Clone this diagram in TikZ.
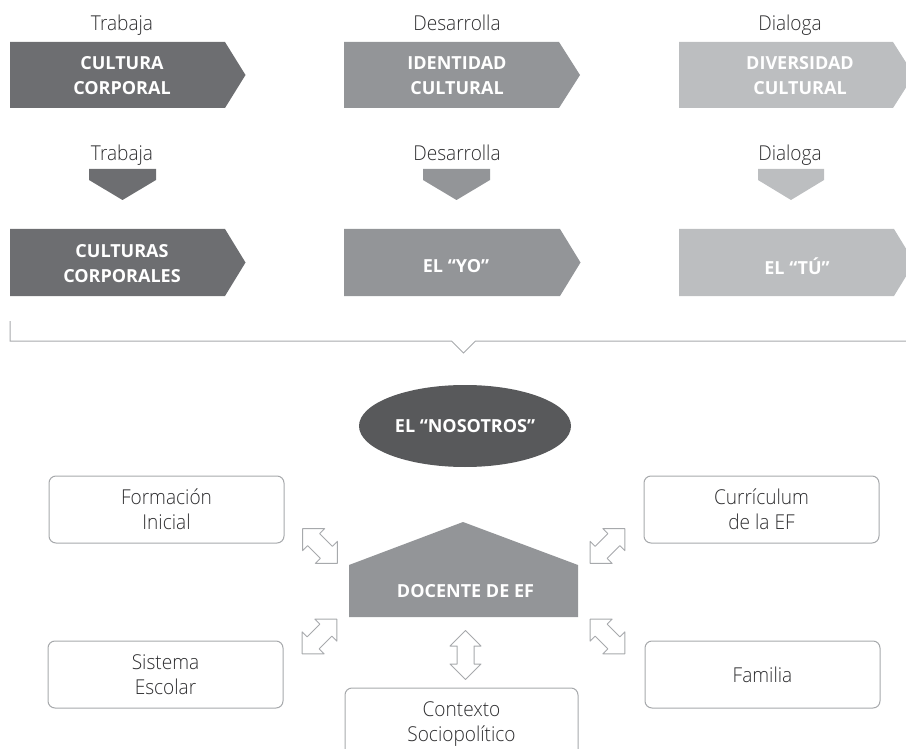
\documentclass[tikz,border=0pt]{standalone}
\usepackage{fontspec}
\setmainfont{Open Sans}
\newfontfamily\lightfont{Open Sans Light}[FakeStretch=0.93]
\usetikzlibrary{shapes.geometric}
\definecolor{cdark}{HTML}{6D6E71}
\definecolor{cmed}{HTML}{939598}
\definecolor{clight}{HTML}{BCBEC0}
\definecolor{cell}{HTML}{58595B}
\definecolor{cline}{HTML}{A7A9AC}
\definecolor{ctext}{HTML}{2E2E30}
\tikzset{
  lbl/.style={font=\lightfont\fontsize{20.5}{25}\selectfont, text=ctext, inner sep=0pt},
  btxt/.style={font=\fontsize{18}{25}\selectfont\bfseries, text=white, align=center, inner sep=0pt},
  boxtxt/.style={font=\lightfont\fontsize{20.5}{25}\selectfont, text=ctext, align=center, inner sep=0pt},
  rbox/.style={draw=cline, line width=1pt, rounded corners=7pt, fill=white},
  dblarr/.pic={\draw[draw=cline, line width=1pt, fill=white, line join=round]
    (-24.5,0) -- (-9,15.5) -- (-9,8.5) -- (9,8.5) -- (9,15.5) -- (24.5,0)
    -- (9,-15.5) -- (9,-8.5) -- (-9,-8.5) -- (-9,-15.5) -- cycle;}
}
\begin{document}
\begin{tikzpicture}[x=1pt,y=-1pt]
\useasboundingbox (0,0) rectangle (906,749);
\clip (0,0) rectangle (906,749);
% top row arrows
\fill[cdark]  (10,42) -- (225,42) -- (245.5,75) -- (225,108) -- (10,108) -- cycle;
\fill[cmed]   (344,42) -- (559,42) -- (580,75) -- (559,108) -- (344,108) -- cycle;
\fill[clight] (679,42) -- (893,42) -- (914,75) -- (893,108) -- (679,108) -- cycle;
% second row arrows
\fill[cdark]  (10,229) -- (225,229) -- (245.5,262.5) -- (225,296) -- (10,296) -- cycle;
\fill[cmed]   (344,229) -- (560,229) -- (580.5,262.5) -- (560,296) -- (344,296) -- cycle;
\fill[clight] (679,229) -- (894,229) -- (914.5,262.5) -- (894,296) -- (679,296) -- cycle;
% small down arrows
\fill[cdark]  (89,169) -- (156,169) -- (156,180) -- (122.5,200) -- (89,180) -- cycle;
\fill[cmed]   (423,169) -- (490,169) -- (490,180) -- (456.5,200) -- (423,180) -- cycle;
\fill[clight] (758,169) -- (824,169) -- (824,180) -- (791,200) -- (758,180) -- cycle;
% labels
\node[lbl, anchor=base] (t1) at (122,31) {Trabaja};
\node[lbl, anchor=base] (d1) at (457,31) {Desarrolla};
\node[lbl, anchor=base] (g1) at (790,31) {Dialoga};
\node[lbl, anchor=base] (t2) at (122,161) {Trabaja};
\node[lbl, anchor=base] (d2) at (457,161) {Desarrolla};
\node[lbl, anchor=base] (g2) at (790,161) {Dialoga};
% arrow texts
\node[btxt] (cc) at (122,76) {CULTURA\\CORPORAL};
\node[btxt] (ic) at (457,76) {IDENTIDAD\\CULTURAL};
\node[btxt] (dc) at (800,76) {DIVERSIDAD\\CULTURAL};
\node[btxt] (ccs) at (122,264) {CULTURAS\\CORPORALES};
\node[btxt] (yo) at (456,266) {EL “YO”};
\node[btxt] (tu) at (797,266) {EL “TÚ”};
% bracket
\coordinate (bra) at (10,321);
\coordinate (brb) at (906,341);
\draw[cline, line width=1pt] (bra) -- (10,341) -- (451.5,341) -- (463.5,353) -- (475.5,341) -- (brb);
% ellipse
\node[ellipse, fill=cell, minimum width=212pt, minimum height=82pt, btxt] (nos) at (465,426) {EL “NOSOTROS”};
% house
\fill[cmed] (349,565) -- (463,522) -- (578,565) -- (578,617) -- (349,617) -- cycle;
\node[btxt] (doc) at (465.5,591) {DOCENTE DE EF};
% boxes
\node[rbox, boxtxt, minimum width=235pt, minimum height=67pt] (fi) at (166.5,509.5) {Formación\\Inicial};
\node[rbox, boxtxt, minimum width=235pt, minimum height=67pt] (cu) at (761.5,509.5) {Currículum\\de la EF};
\node[rbox, boxtxt, minimum width=235pt, minimum height=67pt] (se) at (165.5,674.5) {Sistema\\Escolar};
\node[rbox, boxtxt, minimum width=235pt, minimum height=67pt] (fa) at (762.5,674.5) {Familia};
\node[rbox, minimum width=233pt, minimum height=72pt] (cxb) at (461.5,724) {};
\node[boxtxt] (cx) at (461.5,724) {Contexto\\Sociopolítico};
% double arrows
\pic[rotate=-45] at (320,546) {dblarr};
\pic[rotate=45] at (607.5,546) {dblarr};
\pic[rotate=45] at (319.5,636.5) {dblarr};
\pic[rotate=-45] at (607.5,636.5) {dblarr};
\pic[rotate=90] at (465.5,655) {dblarr};
\end{tikzpicture}
\end{document}
